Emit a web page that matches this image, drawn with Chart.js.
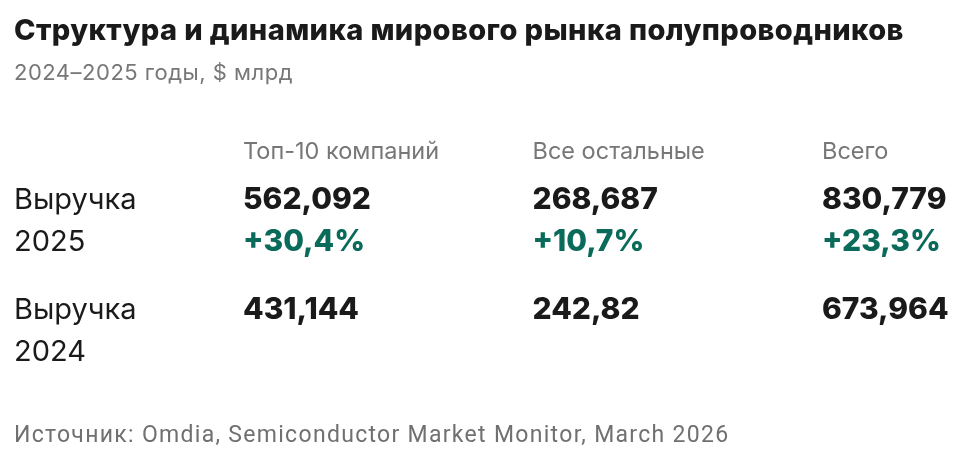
<!DOCTYPE html>
<html lang="ru">
<head>
<meta charset="utf-8">
<script src="https://cdn.jsdelivr.net/npm/chart.js@4.4.1/dist/chart.umd.min.js"></script>
<style>
  html, body { margin: 0; padding: 0; background: #fff; }
  #wrap { position: relative; width: 960px; height: 466px; overflow: hidden; }
  #table-chart { position: absolute; left: 0; top: 0; }
  .txt { position: absolute; left: 14px; white-space: nowrap; line-height: 1; }
  #title { top: 12px; font: 800 29px "Inter", sans-serif; letter-spacing: 0.4px; color: #1a1a1a; }
  #subtitle { top: 59px; font: 400 22px "Inter", sans-serif; letter-spacing: 0.5px; color: #777; }
  #source { top: 421px; font: 400 23px "Roboto", sans-serif; letter-spacing: 1.3px; color: #707070; }
</style>
</head>
<body>
<div id="wrap">
  <canvas id="table-chart"></canvas>
  <div class="txt" id="title">Структура и динамика мирового рынка полупроводников</div>
  <div class="txt" id="subtitle">2024–2025 годы, $ млрд</div>
  <div class="txt" id="source">Источник: Omdia, Semiconductor Market Monitor, March 2026</div>
</div>
<script>
// columns and rows of the table
const colHeaders = ["Топ-10 компаний", "Все остальные", "Всего"];
const rowLabels = [["Выручка", "2025"], ["Выручка", "2024"]];

// revenue, $ bn
const revenue2025 = [562.092, 268.687, 830.779];
const revenue2024 = [431.144, 242.82, 673.964];
// growth 2025 vs 2024, %
const growth2025 = [30.4, 10.7, 23.3];

const fmt = (v) => String(v).replace(".", ",");

// each cell is a point placed by the scales; the text is drawn there
function rowData(values, growth, row) {
    return values.map((v, i) => ({ x: i, y: row, v: v, g: growth ? growth[i] : null }));
}

const cellText = {
    id: "cellText",
    afterDatasetsDraw(chart) {
        const ctx = chart.ctx;
        const half = 21;
        ctx.save();
        ctx.textAlign = "left";
        ctx.textBaseline = "middle";
        chart.data.datasets.forEach((ds, di) => {
            const meta = chart.getDatasetMeta(di);
            meta.data.forEach((pt, j) => {
                const cell = ds.data[j];
                ctx.font = "800 30px Inter, sans-serif";
                ctx.fillStyle = "#1a1a1a";
                ctx.fillText(fmt(cell.v), pt.x, pt.y - half);
                if (cell.g !== null) {
                    ctx.fillStyle = "#0a6b5a";
                    ctx.fillText("+" + fmt(cell.g) + "%", pt.x, pt.y + half);
                }
            });
        });
        ctx.restore();
    }
};

const canvas = document.getElementById("table-chart");
canvas.style.width = "960px";
canvas.style.height = "466px";

new Chart(canvas, {
    type: "scatter",
    data: {
        datasets: [
            { label: "2025", data: rowData(revenue2025, growth2025, 0), pointRadius: 0, pointHoverRadius: 0 },
            { label: "2024", data: rowData(revenue2024, null, 1), pointRadius: 0, pointHoverRadius: 0 }
        ]
    },
    options: {
        responsive: false,
        animation: false,
        events: [],
        layout: { padding: { left: 14, right: 138, top: 0, bottom: 80 } },
        plugins: { legend: { display: false }, tooltip: { enabled: false } },
        scales: {
            x: {
                type: "linear",
                position: "top",
                min: 0,
                max: colHeaders.length - 1,
                grid: { display: false, drawTicks: false },
                border: { display: false },
                afterBuildTicks: (s) => { s.ticks = colHeaders.map((_, i) => ({ value: i })); },
                afterFit: (s) => { s.height = 166; },
                ticks: {
                    align: "start",
                    padding: 0,
                    autoSkip: false,
                    maxRotation: 0,
                    color: "#777",
                    font: { family: "Inter", size: 23.5, weight: 400 },
                    callback: (v) => colHeaders[v]
                }
            },
            y: {
                type: "linear",
                reverse: true,
                min: -0.5,
                max: rowLabels.length - 0.5,
                grid: { display: false, drawTicks: false },
                border: { display: false },
                afterBuildTicks: (s) => { s.ticks = rowLabels.map((_, i) => ({ value: i })); },
                afterFit: (s) => { s.width = 229; },
                ticks: {
                    crossAlign: "far",
                    padding: 0,
                    autoSkip: false,
                    color: "#1a1a1a",
                    font: { family: "Inter", size: 29, weight: 400, lineHeight: "42px" },
                    callback: (v) => rowLabels[v]
                }
            }
        }
    },
    plugins: [cellText]
});
</script>
</body>
</html>
